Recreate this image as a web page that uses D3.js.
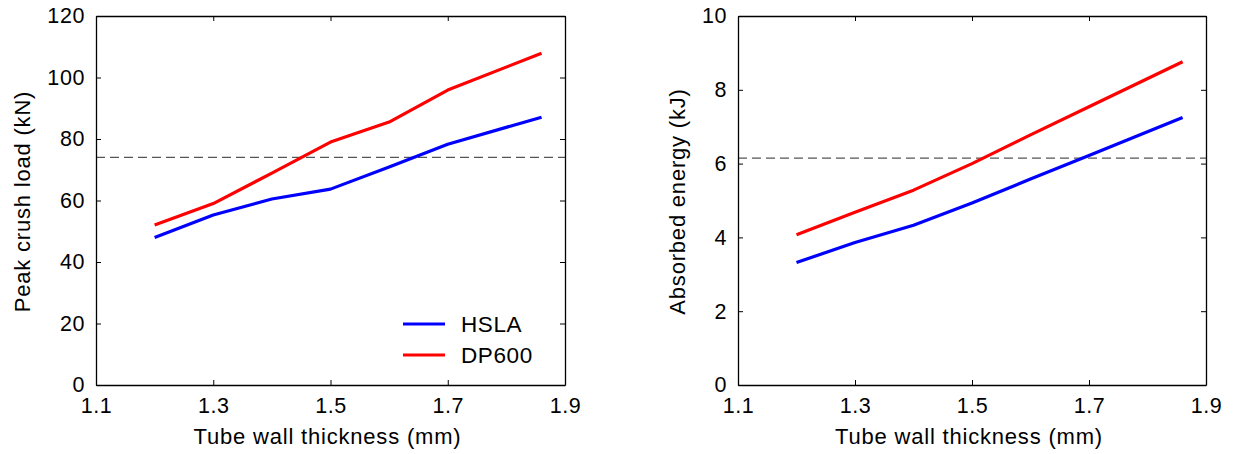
<!DOCTYPE html>
<html>
<head>
<meta charset="utf-8">
<script src="https://cdn.jsdelivr.net/npm/d3@7"></script>
<style>
  body { margin: 0; background: #fff; }
  svg { display: block; font-family: "Liberation Sans", Arial, sans-serif; }
</style>
</head>
<body>
<svg id="chart" width="1235" height="454"></svg>
<script>
// ---- data ----
const thickness = [1.2, 1.3, 1.4, 1.5, 1.6, 1.7, 1.86];
const peakHSLA  = [48.0, 55.3, 60.5, 63.7, 70.9, 78.3, 87.1];
const peakDP600 = [52.0, 59.0, 68.9, 79.0, 85.5, 95.9, 107.9];
const energyHSLA  = [3.32, 3.86, 4.33, 4.93, 5.58, 6.22, 7.25];
const energyDP600 = [4.07, 4.68, 5.28, 6.0, 6.78, 7.54, 8.76];
const peakLimit = 74;
const energyLimit = 6.15;
const xTicks = [1.1, 1.3, 1.5, 1.7, 1.9];
const peakTicks = [0, 20, 40, 60, 80, 100, 120];
const energyTicks = [0, 2, 4, 6, 8, 10];
const seriesNames = ["HSLA", "DP600"];
const seriesColors = ["#0000ff", "#ff0000"];
const xLabel = "Tube wall thickness (mm)";
const peakLabel = "Peak crush load (kN)";
const energyLabel = "Absorbed energy (kJ)";

const svg = d3.select("#chart");

function panel(opts) {
  const { left, right, top, bottom, yMax, yTicks, ySeries, limit, yLabel, yLabelX, legend } = opts;
  const x = d3.scaleLinear().domain([1.1, 1.9]).range([left, right]);
  const y = d3.scaleLinear().domain([0, yMax]).range([bottom, top]);
  const g = svg.append("g");
  const tl = 5;

  // dashed reference line
  g.append("line")
    .attr("x1", x(1.1)).attr("x2", x(1.9))
    .attr("y1", y(limit)).attr("y2", y(limit))
    .attr("stroke", "#555").attr("stroke-width", 1.3)
    .attr("stroke-dasharray", "9,5");

  // series lines
  const line = d3.line().x((d, i) => x(thickness[i])).y(d => y(d));
  ySeries.forEach((s, k) => {
    g.append("path").datum(s)
      .attr("d", line)
      .attr("fill", "none")
      .attr("stroke", seriesColors[k])
      .attr("stroke-width", 3.2)
      .attr("stroke-linejoin", "round");
  });

  // axes (MATLAB-style box with inward ticks)
  const axB = d3.axisBottom(x).tickValues(xTicks).tickSizeInner(-tl).tickSizeOuter(0).tickPadding(13).tickFormat(d3.format(".1f"));
  const axT = d3.axisTop(x).tickValues(xTicks).tickSizeInner(-tl).tickSizeOuter(0).tickFormat("");
  const axL = d3.axisLeft(y).tickValues(yTicks).tickSizeInner(-tl).tickSizeOuter(0).tickPadding(11);
  const axR = d3.axisRight(y).tickValues(yTicks).tickSizeInner(-tl).tickSizeOuter(0).tickFormat("");

  const styleAx = sel => {
    sel.selectAll("path.domain").attr("stroke", "#000").attr("stroke-width", 1.3);
    sel.selectAll(".tick line").attr("stroke", "#000").attr("stroke-width", 1);
    sel.selectAll("text").attr("fill", "#000").style("font-size", "21.5px")
      .style("letter-spacing", "0.6px")
      .style("font-family", '"Liberation Sans", Arial, sans-serif');
  };
  g.append("g").attr("transform", `translate(0,${bottom})`).call(axB).call(styleAx);
  g.append("g").attr("transform", `translate(0,${top})`).call(axT).call(styleAx);
  g.append("g").attr("transform", `translate(${left},0)`).call(axL).call(styleAx);
  g.append("g").attr("transform", `translate(${right},0)`).call(axR).call(styleAx);

  // axis labels
  g.append("text")
    .attr("x", (left + right) / 2 - 3).attr("y", 444)
    .attr("text-anchor", "middle")
    .style("font-size", "22px").style("letter-spacing", "0.8px")
    .text(xLabel);
  g.append("text")
    .attr("transform", `translate(${yLabelX},${(top + bottom) / 2 + 1}) rotate(-90)`)
    .attr("text-anchor", "middle")
    .style("font-size", "22px").style("letter-spacing", "0.8px")
    .text(yLabel);

  if (legend) {
    seriesNames.forEach((n, k) => {
      const ly = 324 + k * 31;
      g.append("line").attr("x1", 403).attr("x2", 445).attr("y1", ly).attr("y2", ly)
        .attr("stroke", seriesColors[k]).attr("stroke-width", 3.2);
      g.append("text").attr("x", 461).attr("y", ly).attr("dy", "0.36em")
        .style("font-size", "22.5px").style("letter-spacing", "0.6px")
        .text(n);
    });
  }
}

panel({ left: 96, right: 565, top: 16, bottom: 385, yMax: 120, yTicks: peakTicks,
        ySeries: [peakHSLA, peakDP600], limit: peakLimit, yLabel: peakLabel, yLabelX: 30, legend: true });
panel({ left: 738, right: 1206, top: 16, bottom: 385, yMax: 10, yTicks: energyTicks,
        ySeries: [energyHSLA, energyDP600], limit: energyLimit, yLabel: energyLabel, yLabelX: 685, legend: false });
</script>
</body>
</html>
